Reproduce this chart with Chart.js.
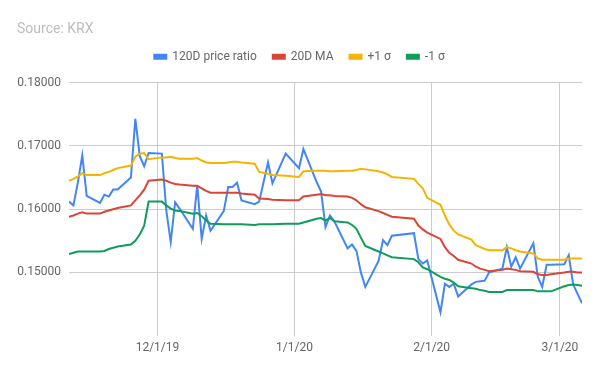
<!DOCTYPE html>
<html>
<head>
<meta charset="utf-8">
<script src="https://cdn.jsdelivr.net/npm/chart.js@4.4.1/dist/chart.umd.min.js"></script>
<style>
html, body { margin: 0; padding: 0; background: #fff; }
#wrap { width: 600px; height: 371px; }
</style>
</head>
<body>
<div id="wrap"><canvas id="chart"></canvas></div>
<script>
// KRX trading days
const dates = [
    "2019-11-11", "2019-11-12", "2019-11-13", "2019-11-14", "2019-11-15",
    "2019-11-18", "2019-11-19", "2019-11-20", "2019-11-21", "2019-11-22",
    "2019-11-25", "2019-11-26", "2019-11-27", "2019-11-28", "2019-11-29",
    "2019-12-02", "2019-12-03", "2019-12-04", "2019-12-05", "2019-12-06",
    "2019-12-09", "2019-12-10", "2019-12-11", "2019-12-12", "2019-12-13",
    "2019-12-16", "2019-12-17", "2019-12-18", "2019-12-19", "2019-12-20",
    "2019-12-23", "2019-12-24", "2019-12-26", "2019-12-27", "2019-12-30",
    "2020-01-02", "2020-01-03", "2020-01-06", "2020-01-07", "2020-01-08",
    "2020-01-09", "2020-01-10", "2020-01-13", "2020-01-14", "2020-01-15",
    "2020-01-16", "2020-01-17", "2020-01-20", "2020-01-21", "2020-01-22",
    "2020-01-23", "2020-01-28", "2020-01-29", "2020-01-30", "2020-01-31",
    "2020-02-03", "2020-02-04", "2020-02-05", "2020-02-06", "2020-02-07",
    "2020-02-10", "2020-02-11", "2020-02-12", "2020-02-13", "2020-02-14",
    "2020-02-17", "2020-02-18", "2020-02-19", "2020-02-20", "2020-02-21",
    "2020-02-24", "2020-02-25", "2020-02-26", "2020-02-27", "2020-02-28",
    "2020-03-02", "2020-03-03", "2020-03-04", "2020-03-05", "2020-03-06"
];
const priceRatio = [
    0.1612, 0.1606, 0.1642, 0.1685, 0.1621, 0.1610, 0.1623, 0.1620, 0.1631, 0.1631,
    0.1650, 0.1743, 0.1684, 0.1668, 0.1689, 0.1688, 0.1598, 0.1548, 0.1611, 0.1601,
    0.1569, 0.1638, 0.1553, 0.1590, 0.1566, 0.1597, 0.1635, 0.1635, 0.1642, 0.1614,
    0.1608, 0.1612, 0.1674, 0.1641, 0.1688, 0.1665, 0.1695, 0.1643, 0.1628, 0.1572,
    0.1590, 0.1581, 0.1538, 0.1544, 0.1534, 0.1500, 0.1477, 0.1518, 0.1551, 0.1543,
    0.1558, 0.1562, 0.1521, 0.1514, 0.1519, 0.1437, 0.1482, 0.1477, 0.1482, 0.1462,
    0.1481, 0.1485, 0.1486, 0.1487, 0.1500, 0.1506, 0.1540, 0.1509, 0.1524, 0.1506,
    0.1546, 0.1493, 0.1477, 0.1512, 0.1512, 0.1513, 0.1527, 0.1481, 0.1466, 0.1451
];
const ma20 = [
    0.1588, 0.1590, 0.1593, 0.1595, 0.1593, 0.1593, 0.1596, 0.1598, 0.1600, 0.1602,
    0.1606, 0.1614, 0.1622, 0.1631, 0.1645, 0.1647, 0.1645, 0.1642, 0.1640, 0.1639,
    0.1637, 0.1637, 0.1633, 0.1629, 0.1626, 0.1626, 0.1626, 0.1626, 0.1626, 0.1625,
    0.1623, 0.1617, 0.1616, 0.1615, 0.1614, 0.1614, 0.1620, 0.1623, 0.1624, 0.1622,
    0.1622, 0.1621, 0.1620, 0.1618, 0.1614, 0.1608, 0.1603, 0.1597, 0.1594, 0.1591,
    0.1588, 0.1585, 0.1574, 0.1568, 0.1563, 0.1553, 0.1540, 0.1531, 0.1526, 0.1520,
    0.1514, 0.1509, 0.1506, 0.1504, 0.1502, 0.1504, 0.1506, 0.1505, 0.1504, 0.1502,
    0.1501, 0.1497, 0.1496, 0.1496, 0.1497, 0.1500, 0.1501, 0.1501, 0.1500, 0.1500
];
const plusSigma = [
    0.1645, 0.1648, 0.1652, 0.1657, 0.1654, 0.1654, 0.1657, 0.1659, 0.1662, 0.1665,
    0.1669, 0.1683, 0.1688, 0.1689, 0.1679, 0.1682, 0.1682, 0.1683, 0.1681, 0.1680,
    0.1680, 0.1681, 0.1677, 0.1674, 0.1673, 0.1673, 0.1674, 0.1675, 0.1675, 0.1674,
    0.1672, 0.1659, 0.1656, 0.1654, 0.1653, 0.1651, 0.1660, 0.1661, 0.1661, 0.1661,
    0.1660, 0.1660, 0.1661, 0.1661, 0.1662, 0.1664, 0.1663, 0.1660, 0.1658, 0.1655,
    0.1651, 0.1648, 0.1640, 0.1633, 0.1618, 0.1607, 0.1590, 0.1576, 0.1566, 0.1560,
    0.1552, 0.1543, 0.1540, 0.1537, 0.1535, 0.1535, 0.1540, 0.1538, 0.1535, 0.1533,
    0.1530, 0.1522, 0.1520, 0.1520, 0.1520, 0.1520, 0.1522, 0.1522, 0.1522, 0.1522
];
const minusSigma = [
    0.1529, 0.1531, 0.1533, 0.1533, 0.1533, 0.1533, 0.1534, 0.1537, 0.1539, 0.1541,
    0.1544, 0.1550, 0.1560, 0.1574, 0.1612, 0.1612, 0.1606, 0.1601, 0.1598, 0.1597,
    0.1593, 0.1594, 0.1589, 0.1582, 0.1577, 0.1576, 0.1576, 0.1576, 0.1576, 0.1576,
    0.1575, 0.1576, 0.1576, 0.1576, 0.1577, 0.1577, 0.1579, 0.1585, 0.1586, 0.1582,
    0.1586, 0.1581, 0.1579, 0.1575, 0.1569, 0.1555, 0.1542, 0.1533, 0.1530, 0.1527,
    0.1524, 0.1521, 0.1516, 0.1508, 0.1505, 0.1493, 0.1490, 0.1488, 0.1484, 0.1478,
    0.1475, 0.1474, 0.1472, 0.1471, 0.1469, 0.1469, 0.1472, 0.1472, 0.1472, 0.1472,
    0.1472, 0.1470, 0.1470, 0.1470, 0.1470, 0.1478, 0.1480, 0.1481, 0.1480, 0.1479
];
const seriesNames = ["120D price ratio", "20D MA", "+1 σ", "-1 σ"];
const seriesColors = ["#4285f4", "#db4437", "#f4b400", "#0f9d58"];
const xTickDates = ["2019-12-01", "2020-01-01", "2020-02-01", "2020-03-01"];
const xTickLabels = ["12/1/19", "1/1/20", "2/1/20", "3/1/20"];
const yTicks = [0.14, 0.15, 0.16, 0.17, 0.18];

function toDay(s) {
    const [y, m, d] = s.split("-").map(Number);
    return Date.UTC(y, m - 1, d) / 86400000;
}

const xs = dates.map(toDay);
const allSeries = [priceRatio, ma20, plusSigma, minusSigma];

const datasets = allSeries.map((values, i) => ({
    label: seriesNames[i],
    data: values.map((v, j) => ({ x: xs[j], y: v })),
    borderColor: seriesColors[i],
    backgroundColor: seriesColors[i],
    borderWidth: 2,
    pointRadius: 0,
    tension: 0,
    fill: false,
    order: allSeries.length - i
}));

// extra room under the legend
const legendGap = {
    id: "legendGap",
    beforeInit(chart) {
        const fit = chart.legend.fit;
        chart.legend.fit = function () {
            fit.bind(chart.legend)();
            this.height += 10;
        };
    }
};

Chart.defaults.font.family = "Roboto, sans-serif";

new Chart(document.getElementById("chart"), {
    type: "line",
    data: { datasets: datasets },
    plugins: [legendGap],
    options: {
        responsive: true,
        maintainAspectRatio: false,
        animation: false,
        layout: { padding: { left: 17, right: 18, top: 0, bottom: 11 } },
        plugins: {
            title: {
                display: true,
                text: "Source: KRX",
                align: "start",
                color: "#bdbdbd",
                font: { size: 14, weight: "normal" },
                padding: { top: 21, bottom: -3 }
            },
            legend: {
                position: "top",
                labels: {
                    boxWidth: 12,
                    boxHeight: 4,
                    color: "#666",
                    font: { size: 12 },
                    padding: 16,
                    sort: (a, b) => a.datasetIndex - b.datasetIndex
                }
            },
            tooltip: { enabled: false }
        },
        scales: {
            x: {
                type: "linear",
                min: xs[0],
                max: xs[xs.length - 1],
                afterBuildTicks: scale => {
                    scale.ticks = xTickDates.map(d => ({ value: toDay(d) }));
                },
                ticks: {
                    autoSkip: false,
                    maxRotation: 0,
                    color: "#666",
                    font: { size: 12 },
                    padding: 5,
                    callback: value => {
                        const k = xTickDates.findIndex(d => toDay(d) === value);
                        return k >= 0 ? xTickLabels[k] : "";
                    }
                },
                grid: { color: "#cccccc", drawTicks: false },
                border: { display: false }
            },
            y: {
                min: 0.14,
                max: 0.18,
                afterBuildTicks: scale => {
                    scale.ticks = yTicks.map(v => ({ value: v }));
                },
                afterFit: scale => { scale.width = 52; },
                ticks: {
                    color: "#666",
                    font: { size: 12 },
                    padding: 8,
                    callback: value => value < 0.145 ? "" : value.toFixed(5)
                },
                grid: {
                    color: ctx => (ctx.tick && ctx.tick.value < 0.145) ? "rgba(0,0,0,0)" : "#cccccc",
                    drawTicks: false
                },
                border: { display: false }
            }
        }
    }
});
</script>
</body>
</html>
